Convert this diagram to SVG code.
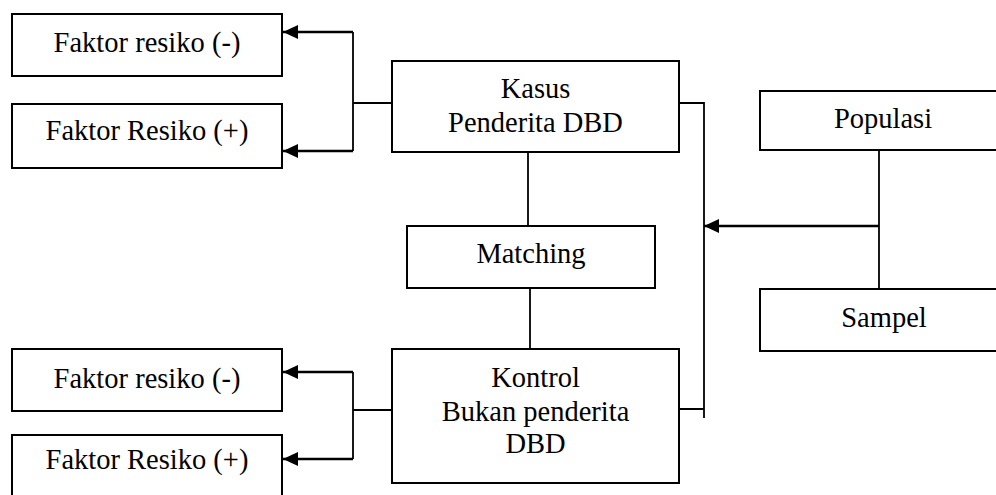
<svg xmlns="http://www.w3.org/2000/svg" width="996" height="495" viewBox="0 0 996 495">
<style>
  .box { fill: #fff; stroke: #000; stroke-width: 2; }
  text { font-family: "Liberation Serif", "DejaVu Serif", serif; }
  .t { font-size: 28.5px; fill: #000; text-anchor: middle; }
  .ln { fill: none; stroke: #000; stroke-width: 1.8; }
  .ar { fill: none; stroke: #000; stroke-width: 2.6; marker-end: url(#ah); }
</style>
<defs>
  <marker id="ah" viewBox="0 0 15 14" refX="15" refY="7" markerWidth="15" markerHeight="14" markerUnits="userSpaceOnUse" orient="auto">
    <path d="M0,0 L15,7 L0,14 z" fill="#000"/>
  </marker>
</defs>
<rect width="996" height="495" fill="#fff"/>
<g id="connectors">
  <path class="ln" d="M392,103 H353 M353,32 V151"/>
  <path class="ar" d="M353,32 H283"/>
  <path class="ar" d="M353,151 H283"/>
  <path class="ln" d="M528,152 V226"/>
  <path class="ln" d="M530,288 V349"/>
  <path class="ln" d="M679,103 H704 V418 M679,409 H704"/>
  <path class="ln" d="M879,150 V292"/>
  <path class="ar" d="M879,226 H704"/>
  <path class="ln" d="M392,410 H353 M353,372 V459"/>
  <path class="ar" d="M353,372 H283"/>
  <path class="ar" d="M353,459 H283"/>
</g>
<g font-family="Liberation Serif, DejaVu Serif, serif">
<g id="faktor1">
  <rect class="box" x="12" y="14" width="270" height="62"/>
  <text class="t" x="147" y="52" font-family="Liberation Serif">Faktor resiko (-)</text>
</g>
<g id="faktor2">
  <rect class="box" x="12" y="104" width="270" height="64"/>
  <text class="t" x="147" y="140" font-family="Liberation Serif">Faktor Resiko (+)</text>
</g>
<g id="kasus">
  <rect class="box" x="392" y="61" width="287" height="91"/>
  <text class="t" x="535.5" y="98" font-family="Liberation Serif">Kasus</text>
  <text class="t" x="535.5" y="132" font-family="Liberation Serif">Penderita DBD</text>
</g>
<g id="matching">
  <rect class="box" x="407" y="226" width="248" height="62"/>
  <text class="t" x="531" y="263" font-family="Liberation Serif">Matching</text>
</g>
<g id="kontrol">
  <rect class="box" x="392" y="349" width="287" height="134"/>
  <text class="t" x="535.5" y="387" font-family="Liberation Serif">Kontrol</text>
  <text class="t" x="535.5" y="421" font-family="Liberation Serif">Bukan penderita</text>
  <text class="t" x="535.5" y="453" font-family="Liberation Serif">DBD</text>
</g>
<g id="populasi">
  <rect class="box" x="760" y="91" width="250" height="59"/>
  <text class="t" x="883" y="128" font-family="Liberation Serif">Populasi</text>
</g>
<g id="sampel">
  <rect class="box" x="760" y="289" width="250" height="62"/>
  <text class="t" x="884" y="327" font-family="Liberation Serif">Sampel</text>
</g>
<g id="faktor3">
  <rect class="box" x="12" y="349" width="270" height="62"/>
  <text class="t" x="147" y="388" font-family="Liberation Serif">Faktor resiko (-)</text>
</g>
<g id="faktor4">
  <rect class="box" x="12" y="435" width="270" height="70"/>
  <text class="t" x="147" y="469" font-family="Liberation Serif">Faktor Resiko (+)</text>
</g>
</g>
</svg>
